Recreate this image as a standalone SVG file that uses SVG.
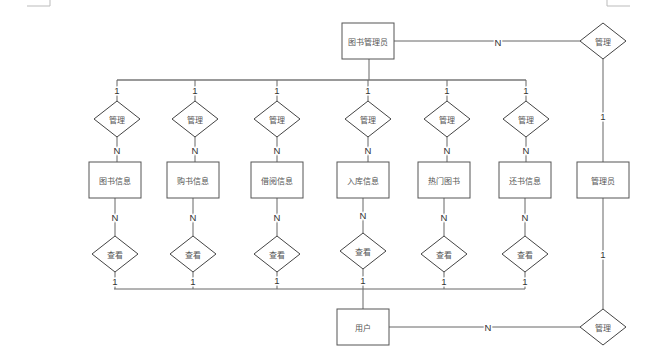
<svg xmlns="http://www.w3.org/2000/svg" width="645" height="360" viewBox="0 0 645 360">
<style>
.box{fill:#fff;stroke:#555;stroke-width:1}
.dia{fill:#fff;stroke:#444;stroke-width:1}
.ln{fill:none;stroke:#666;stroke-width:1}
.bus{fill:none;stroke:#777;stroke-width:1.5}
.rl{fill:none;stroke:#999;stroke-width:1.5}
.nt{font-family:"Noto Sans CJK SC","Noto Sans",sans-serif;font-size:8px;fill:#555;text-anchor:middle;dominant-baseline:central}
.lb{font-family:"Liberation Sans","Noto Sans",sans-serif;font-size:9.5px;fill:#333;text-anchor:middle;dominant-baseline:central;stroke:#fff;stroke-width:3;paint-order:stroke}
.mk{fill:none;stroke:#bbb;stroke-width:1}
</style>
<rect width="645" height="360" fill="#fff"/>
<path class="mk" d="M27 6H50V0M607 0V6H630"/>
<g id="connectors">
<path class="ln" d="M369 59V80"/>
<path class="bus" d="M117 80H526"/>
<path class="ln" d="M394 41H580"/>
<path class="rl" d="M603 59V162M603 198V309"/>
<path class="ln" d="M389 327H580"/>
<path class="ln" d="M117 80V101M117 137V162M195 80V101M195 137V162M277 80V101M277 137V162M368 80V101M368 137V162M447 80V101M447 137V162M526 80V101M526 137V162"/>
<path class="ln" d="M115 198V236M115 272V289M193 198V236M193 272V289M277 198V236M277 272V289M363 198V233M363 269V309M444 198V236M444 272V289M525 198V236M525 272V289"/>
<path class="ln" d="M114 289H525"/>
<text class="lb" x="498" y="42">N</text>
<text class="lb" x="488" y="327">N</text>
<text class="lb" x="603" y="116">1</text>
<text class="lb" x="603" y="254">1</text>
<text class="lb" x="117" y="90">1</text><text class="lb" x="195" y="90">1</text><text class="lb" x="277" y="90">1</text><text class="lb" x="368" y="90">1</text><text class="lb" x="447" y="90">1</text><text class="lb" x="526" y="90">1</text>
<text class="lb" x="117" y="150">N</text><text class="lb" x="195" y="150">N</text><text class="lb" x="277" y="150">N</text><text class="lb" x="368" y="150">N</text><text class="lb" x="447" y="150">N</text><text class="lb" x="526" y="150">N</text>
<text class="lb" x="115" y="217">N</text><text class="lb" x="193" y="217">N</text><text class="lb" x="277" y="217">N</text><text class="lb" x="363" y="215">N</text><text class="lb" x="444" y="217">N</text><text class="lb" x="525" y="217">N</text>
<text class="lb" x="115" y="281">1</text><text class="lb" x="193" y="281">1</text><text class="lb" x="277" y="280">1</text><text class="lb" x="363" y="280">1</text><text class="lb" x="444" y="281">1</text><text class="lb" x="525" y="281">1</text>
</g>
<g id="librarian"><rect class="box" x="342" y="23" width="52" height="36"/><text class="nt" x="368" y="41">图书管理员</text></g>
<g id="manage-top"><path class="dia" d="M603 23L626 41L603 59L580 41Z"/><text class="nt" x="603" y="41">管理</text></g>
<g id="admin"><rect class="box" x="577" y="162" width="52" height="36"/><text class="nt" x="603" y="180">管理员</text></g>
<g id="manage-bottom"><path class="dia" d="M603 309L626 327L603 345L580 327Z"/><text class="nt" x="603" y="327">管理</text></g>
<g id="user"><rect class="box" x="337" y="309" width="52" height="36"/><text class="nt" x="363" y="327">用户</text></g>
<g id="m1"><path class="dia" d="M117 101L140 119L117 137L94 119Z"/><text class="nt" x="117" y="119">管理</text></g>
<g id="m2"><path class="dia" d="M195 101L218 119L195 137L172 119Z"/><text class="nt" x="195" y="119">管理</text></g>
<g id="m3"><path class="dia" d="M277 101L300 119L277 137L254 119Z"/><text class="nt" x="277" y="119">管理</text></g>
<g id="m4"><path class="dia" d="M368 101L391 119L368 137L345 119Z"/><text class="nt" x="368" y="119">管理</text></g>
<g id="m5"><path class="dia" d="M447 101L470 119L447 137L424 119Z"/><text class="nt" x="447" y="119">管理</text></g>
<g id="m6"><path class="dia" d="M526 101L549 119L526 137L503 119Z"/><text class="nt" x="526" y="119">管理</text></g>
<g id="e1"><rect class="box" x="89" y="162" width="52" height="36"/><text class="nt" x="115" y="180">图书信息</text></g>
<g id="e2"><rect class="box" x="167" y="162" width="52" height="36"/><text class="nt" x="193" y="180">购书信息</text></g>
<g id="e3"><rect class="box" x="251" y="162" width="52" height="36"/><text class="nt" x="277" y="180">借阅信息</text></g>
<g id="e4"><rect class="box" x="337" y="162" width="52" height="36"/><text class="nt" x="363" y="180">入库信息</text></g>
<g id="e5"><rect class="box" x="418" y="162" width="52" height="36"/><text class="nt" x="444" y="180">热门图书</text></g>
<g id="e6"><rect class="box" x="499" y="162" width="52" height="36"/><text class="nt" x="525" y="180">还书信息</text></g>
<g id="v1"><path class="dia" d="M115 236L138 254L115 272L92 254Z"/><text class="nt" x="115" y="254">查看</text></g>
<g id="v2"><path class="dia" d="M193 236L216 254L193 272L170 254Z"/><text class="nt" x="193" y="254">查看</text></g>
<g id="v3"><path class="dia" d="M277 236L300 254L277 272L254 254Z"/><text class="nt" x="277" y="254">查看</text></g>
<g id="v4"><path class="dia" d="M363 233L386 251L363 269L340 251Z"/><text class="nt" x="363" y="251">查看</text></g>
<g id="v5"><path class="dia" d="M444 236L467 254L444 272L421 254Z"/><text class="nt" x="444" y="254">查看</text></g>
<g id="v6"><path class="dia" d="M525 236L548 254L525 272L502 254Z"/><text class="nt" x="525" y="254">查看</text></g>
</svg>
